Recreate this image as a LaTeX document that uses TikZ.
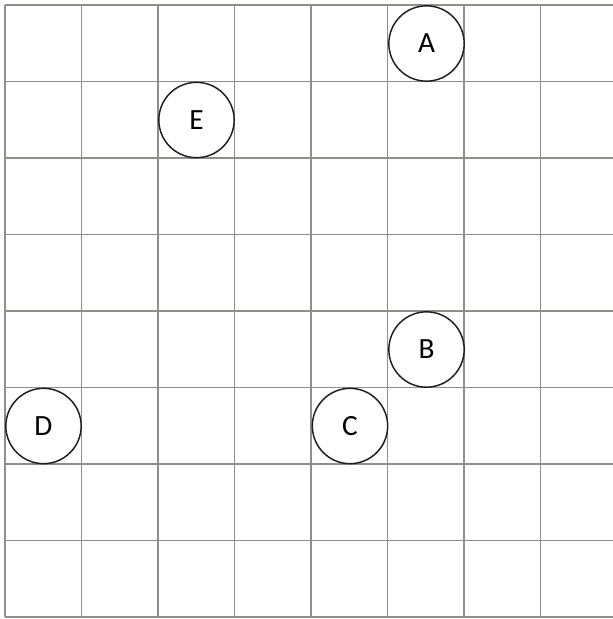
\documentclass[tikz,border=0pt]{standalone}
\usepackage{fontspec}
\setmainfont{Carlito}
\usepackage{tikz}
\usetikzlibrary{positioning}
\definecolor{gridGray}{HTML}{8E8E8A}
\definecolor{ringBlack}{HTML}{1E1E1E}

\begin{document}
\begin{tikzpicture}[
  x=0.75pt, y=-0.75pt,
  gridline/.style={draw=gridGray, line width=1.4pt},
  spot/.style={circle, draw=ringBlack, fill=white, line width=1.1pt, minimum size=56.5pt, inner sep=0pt, font=\fontsize{22}{24}\selectfont}
]
\useasboundingbox (0,0) rectangle (613,619);
% grid
\foreach \i in {0,...,7} {
  \draw[gridline] ({5+76.5*\i},5) -- ({5+76.5*\i},617);
}
\foreach \j in {0,...,8} {
  \draw[gridline] (5,{5+76.5*\j}) -- (613,{5+76.5*\j});
}
% letters
\node[spot] (a) at (426.5,43.5) {A};
\node[spot] (e) at (196.5,120) {E};
\node[spot] (b) at (426.5,349.5) {B};
\node[spot] (c) at (350,426) {C};
\node[spot] (d) at (43.5,426) {D};
\end{tikzpicture}
\end{document}
